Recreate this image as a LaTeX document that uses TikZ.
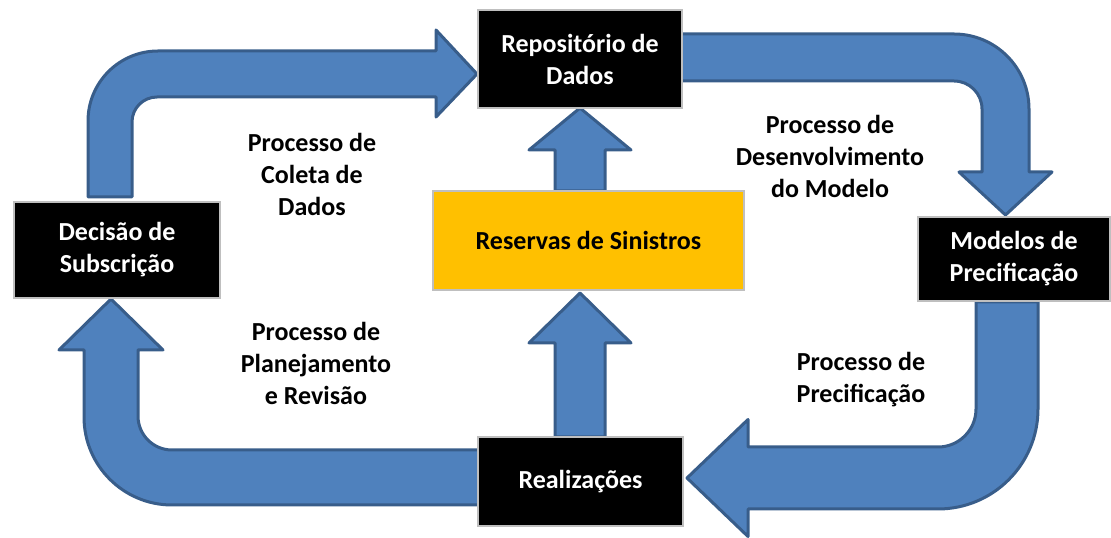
\documentclass[tikz,border=0pt]{standalone}
\usepackage{fontspec}
\setmainfont{Carlito}
\usetikzlibrary{positioning}
\definecolor{setaazul}{HTML}{4F81BD}
\definecolor{setaborda}{HTML}{385D8A}
\definecolor{caixaborda}{HTML}{BFBFBF}
\definecolor{amarelo}{HTML}{FFC000}

\begin{document}
\begin{tikzpicture}[x=1pt, y=1pt,
    seta/.style={fill=setaazul, draw=setaborda, line width=3pt, line join=round},
    caixa/.style={draw=caixaborda, line width=2pt, fill=black, text=white, align=center, inner sep=0pt,
        font=\fontsize{26}{32}\selectfont\bfseries},
    rotulo/.style={align=center, font=\fontsize{26}{32}\selectfont\bfseries}]
    \useasboundingbox (0,0) rectangle (1111,538);

    % setas grandes do ciclo
    \draw [seta] (88,341) -- (88,417) arc (180:90:70) -- (436,487) -- (436,508) -- (477,464)
        -- (436,421) -- (436,441) -- (157,441) arc (90:180:25) -- (132,341) -- cycle;
    \draw [seta] (675,504) -- (954,504) arc (90:0:75) -- (1029,366) -- (1052,366) -- (1005.5,323)
        -- (959,366) -- (982,366) -- (982,429) arc (0:90:28) -- (675,457) -- cycle;
    \draw [seta] (1038,236) -- (1038,129) arc (0:-90:100) -- (748,29) -- (748,1.5) -- (687,60)
        -- (748,118.5) -- (748,91) -- (938,91) arc (-90:0:38) -- (976,236) -- cycle;
    \draw [seta] (485,88) -- (172,88) arc (270:180:34) -- (138,188) -- (163,188) -- (111,239)
        -- (59,188) -- (84,188) -- (84,121) arc (180:270:88) -- (485,33) -- cycle;

    % setas do centro
    \draw [seta] (555,347) -- (555,388) -- (529,388) -- (580,430) -- (631,388) -- (605,388) -- (605,347) -- cycle;
    \draw [seta] (555,101) -- (555,195) -- (529,195) -- (580,245) -- (631,195) -- (605,195) -- (605,101) -- cycle;

    % caixas
    \node (repo) [caixa, minimum width=204, minimum height=98] at (580,479) {Repositório de\\Dados};
    \node (dec) [caixa, minimum width=206, minimum height=96] at (117,288) {Decisão de\\Subscrição};
    \node (mod) [caixa, minimum width=192, minimum height=84] at (1014,279) {Modelos de\\Precificação};
    \node (real) [caixa, minimum width=205, minimum height=89] at (580.5,56.5) {Realizações};
    \node (res) [caixa, fill=amarelo, text=black, minimum width=311, minimum height=99] at (588.5,297.5) {Reservas de Sinistros};

    % rotulos dos processos
    \node (coleta) [rotulo] at (312,364) {Processo de\\Coleta de\\Dados};
    \node (desenv) [rotulo] at (830,382) {Processo de\\Desenvolvimento\\do Modelo};
    \node (planej) [rotulo] at (316,175) {Processo de\\Planejamento\\e Revisão};
    \node (prec) [rotulo] at (861,158) {Processo de\\Precificação};
\end{tikzpicture}
\end{document}
